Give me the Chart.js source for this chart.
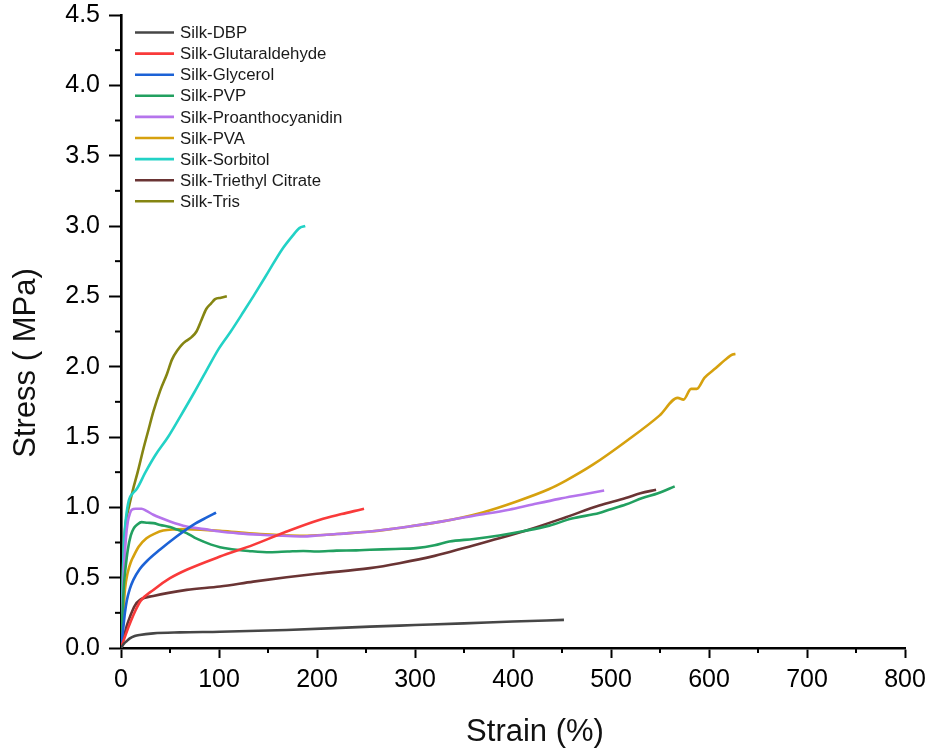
<!DOCTYPE html>
<html>
<head>
<meta charset="utf-8">
<script src="https://cdn.jsdelivr.net/npm/chart.js@4.4.1/dist/chart.umd.min.js"></script>
<style>
  html, body { margin: 0; padding: 0; background: #ffffff; }
  #wrap { width: 931px; height: 756px; }
</style>
</head>
<body>
<div id="wrap"><canvas id="c" width="931" height="756"></canvas></div>
<script>
// ---------- DATA (strain %, stress MPa) ----------
const seriesNames = ["Silk-DBP", "Silk-Glutaraldehyde", "Silk-Glycerol", "Silk-PVP",
  "Silk-Proanthocyanidin", "Silk-PVA", "Silk-Sorbitol", "Silk-Triethyl Citrate", "Silk-Tris"];

const dbp = [[0,0],[3,0.03],[6,0.05],[9,0.068],[14,0.085],[19,0.093],[33,0.104],[60,0.111],[101,0.116],
  [169,0.128],[254,0.152],[300,0.163],[350,0.175],[400,0.188],[452,0.2]];

const glutaraldehyde = [[0,0],[5,0.1],[10,0.19],[15,0.27],[20,0.335],[33,0.413],[50,0.496],[67,0.556],
  [101,0.65],[135,0.733],[169,0.828],[203,0.912],[225,0.952],[245,0.985],[248,0.99]];

const glycerol = [[0,0],[2,0.12],[4,0.25],[6,0.34],[9,0.42],[12.6,0.484],[19,0.56],[26,0.615],
  [39.6,0.698],[56.7,0.793],[73.7,0.876],[88,0.93],[97,0.962]];

const pvp = [[0,0],[1.5,0.25],[3,0.45],[4.5,0.56],[7,0.7],[10,0.8],[13,0.85],[17,0.88],[21,0.895],
  [27,0.89],[33,0.888],[40,0.875],[50,0.86],[58,0.84],[67,0.817],[75,0.785],[84,0.757],[92,0.735],
  [101,0.717],[110,0.705],[118,0.698],[130,0.69],[152,0.681],[170,0.686],[186,0.69],[200,0.686],
  [220,0.692],[240,0.694],[254,0.698],[280,0.704],[301,0.71],[320,0.73],[335,0.757],[360,0.775],
  [386,0.8],[410,0.83],[437,0.87],[460,0.92],[488,0.96],[498,0.983],[515,1.02],[532,1.066],
  [548,1.1],[565,1.149]];

const proanthocyanidin = [[0,0],[1.5,0.3],[3,0.55],[5,0.78],[7,0.9],[9,0.955],[11,0.983],[15,0.99],
  [21,0.99],[26,0.975],[33,0.947],[50,0.9],[67,0.864],[85,0.845],[101,0.828],[120,0.815],[142,0.805],
  [165,0.798],[186,0.793],[200,0.8],[220,0.81],[254,0.828],[294,0.864],[328,0.9],[360,0.94],
  [396,0.983],[420,1.02],[447,1.06],[470,1.09],[493,1.12]];

const pva = [[0,0],[2,0.2],[4,0.413],[7,0.54],[10,0.61],[12.6,0.65],[18,0.72],[26,0.78],[35,0.815],
  [43,0.835],[55,0.843],[67,0.845],[85,0.84],[101,0.833],[120,0.822],[142,0.81],[165,0.802],
  [186,0.798],[210,0.805],[230,0.815],[254,0.828],[275,0.845],[294,0.864],[328,0.9],[369,0.964],
  [403,1.04],[437,1.13],[454,1.19],[481.5,1.303],[515.5,1.47],[549.4,1.652],
  [568,1.778],[574,1.766],[581.7,1.842],[587.5,1.842],[595.3,1.92],[607,1.99],[619,2.063],
  [624,2.087],[627,2.09]];

const sorbitol = [[0,0],[1,0.3],[2,0.55],[3,0.75],[5,0.92],[8,1.05],[12,1.1],[16,1.13],[25,1.25],
  [35,1.37],[48,1.5],[60,1.64],[75,1.82],[87,1.97],[100,2.13],[112,2.25],[125,2.39],[135,2.5],
  [150,2.67],[164,2.83],[175,2.93],[182,2.985],[188,3.0]];

const triethylCitrate = [[0,0],[3,0.08],[6,0.16],[9.2,0.223],[14,0.3],[19.4,0.342],[33,0.37],[67,0.413],
  [101,0.437],[135,0.472],[169,0.503],[203,0.53],[254,0.568],[284,0.603],[320,0.655],[352,0.715],
  [386,0.78],[420,0.85],[454,0.93],[488,1.013],[515,1.066],[530,1.1],[546,1.125]];

const tris = [[0,0],[1,0.3],[2,0.55],[3.5,0.78],[5,0.9],[8,1.0],[12,1.12],[17,1.25],[23,1.42],
  [28,1.55],[33,1.68],[40,1.83],[47,1.95],[52,2.05],[58,2.12],[62,2.155],[66,2.18],[72,2.21],
  [77,2.25],[82,2.33],[87,2.41],[92,2.45],[96,2.48],[102,2.49],[108,2.5]];

const seriesValues = [dbp, glutaraldehyde, glycerol, pvp, proanthocyanidin, pva, sorbitol, triethylCitrate, tris];

const xTickLabels = [0, 100, 200, 300, 400, 500, 600, 700, 800];
const yTickLabels = ["0.0", "0.5", "1.0", "1.5", "2.0", "2.5", "3.0", "3.5", "4.0", "4.5"];
const xTitle = "Strain (%)";
const yTitle = "Stress ( MPa)";

// ---------- STYLE ----------
const seriesColors = ["#464646", "#f93a3a", "#1c62d6", "#22a060", "#b574ec", "#d6a10e", "#22d2c6", "#6a3434", "#858512"];
const FONT = "'Liberation Sans', Arial, Helvetica, sans-serif";

const datasets = seriesNames.map((name, i) => ({
  label: name,
  data: seriesValues[i].map(p => ({ x: p[0], y: p[1] })),
  borderColor: seriesColors[i],
  backgroundColor: seriesColors[i],
  borderWidth: 2.6,
  pointRadius: 0,
  showLine: true,
  fill: false,
  cubicInterpolationMode: 'monotone'
}));

const extras = {
  id: 'extras',
  afterDraw(chart) {
    const ctx = chart.ctx;
    const xs = chart.scales.x, ys = chart.scales.y;
    const area = chart.chartArea;
    ctx.save();
    // minor ticks
    ctx.strokeStyle = '#000';
    ctx.lineWidth = 2;
    for (let v = 50; v < 800; v += 100) {
      const px = xs.getPixelForValue(v);
      ctx.beginPath(); ctx.moveTo(px, area.bottom); ctx.lineTo(px, area.bottom + 5); ctx.stroke();
    }
    for (let v = 0.25; v < 4.5; v += 0.5) {
      const py = ys.getPixelForValue(v);
      ctx.beginPath(); ctx.moveTo(area.left, py); ctx.lineTo(area.left - 6, py); ctx.stroke();
    }
    // legend inside plot area
    ctx.font = "16.8px " + FONT;
    ctx.textBaseline = 'middle';
    ctx.textAlign = 'left';
    chart.data.datasets.forEach((ds, i) => {
      const cy = area.top + 17.5 + i * 21.1;
      ctx.strokeStyle = ds.borderColor;
      ctx.lineWidth = 2.6;
      ctx.beginPath(); ctx.moveTo(area.left + 14, cy); ctx.lineTo(area.left + 53, cy); ctx.stroke();
      ctx.fillStyle = '#1a1a1a';
      ctx.fillText(ds.label, area.left + 59, cy + 1);
    });
    // axis titles
    ctx.fillStyle = '#111';
    ctx.font = "31px " + FONT;
    ctx.textAlign = 'center';
    ctx.textBaseline = 'alphabetic';
    ctx.fillText(xTitle, 535, 741);
    ctx.translate(35, 363);
    ctx.rotate(-Math.PI / 2);
    ctx.fillText(yTitle, 0, 0);
    ctx.restore();
  }
};

new Chart(document.getElementById('c'), {
  type: 'scatter',
  data: { datasets },
  options: {
    responsive: false,
    animation: false,
    devicePixelRatio: 1,
    layout: { padding: { left: 0, right: 26, top: 15, bottom: 0 } },
    plugins: { legend: { display: false }, tooltip: { enabled: false } },
    scales: {
      x: {
        type: 'linear',
        min: 0, max: 800,
        afterFit(scale) { scale.height = 108; scale.paddingLeft = 0; scale.paddingRight = 0; },
        afterBuildTicks(scale) { scale.ticks = xTickLabels.map(v => ({ value: v })); },
        ticks: {
          callback: (v) => String(v),
          font: { size: 25, family: FONT },
          color: '#000',
          padding: 7,
          maxRotation: 0,
          autoSkip: false
        },
        grid: { display: true, drawOnChartArea: false, drawTicks: true, tickLength: 10, tickWidth: 2, tickColor: '#000' },
        border: { display: true, color: '#000', width: 2.6 }
      },
      y: {
        type: 'linear',
        min: 0, max: 4.5,
        afterFit(scale) { scale.width = 121; scale.paddingTop = 0; scale.paddingBottom = 0; },
        afterBuildTicks(scale) { scale.ticks = yTickLabels.map(s => ({ value: parseFloat(s) })); },
        ticks: {
          callback: (v, i) => yTickLabels[i],
          font: { size: 25, family: FONT },
          color: '#000',
          padding: 9,
          autoSkip: false
        },
        grid: { display: true, drawOnChartArea: false, drawTicks: true, tickLength: 12, tickWidth: 2, tickColor: '#000' },
        border: { display: true, color: '#000', width: 2.6 }
      }
    }
  },
  plugins: [extras]
});
</script>
</body>
</html>
